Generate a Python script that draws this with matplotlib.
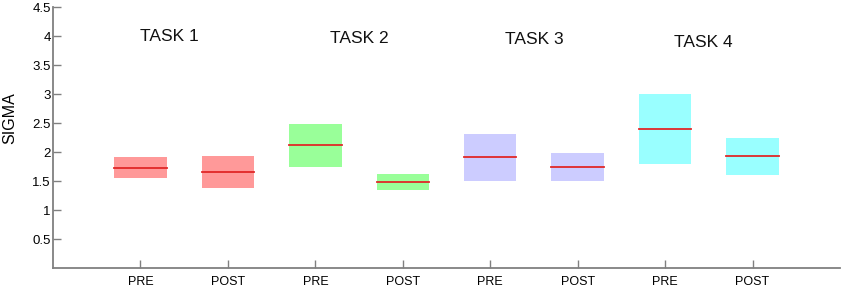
import numpy as np
import matplotlib
matplotlib.use('Agg')
import matplotlib.pyplot as plt

plt.rcParams.update({
    'font.family': ['Liberation Sans', 'DejaVu Sans'],
})

tasks = ['TASK 1', 'TASK 2', 'TASK 3', 'TASK 4']
tick_labels = ['PRE', 'POST'] * 4
q_low = [1.56, 1.38, 1.75, 1.35, 1.51, 1.51, 1.79, 1.61]
q_high = [1.91, 1.94, 2.49, 1.63, 2.31, 1.98, 3.00, 2.25]
medians = [1.73, 1.66, 2.12, 1.49, 1.92, 1.75, 2.40, 1.94]
task_colors = ['#ff9999', '#99ff99', '#ccccff', '#99ffff']

pos = np.arange(1, 9)
box_colors = [c for c in task_colors for _ in range(2)]

fig = plt.figure(figsize=(8.43, 2.89), dpi=100)
ax = fig.add_axes([0.0629, 0.0727, 0.9335, 0.902])

w = 0.6
for p, lo, hi, md, c in zip(pos, q_low, q_high, medians, box_colors):
    ax.bar(p, hi - lo, bottom=lo, width=w, color=c, edgecolor='none')
    ax.plot([p - w / 2, p + w / 2], [md, md], color='#e02828', lw=1.3)

# task titles
title_x = [1.33, 3.5, 5.5, 7.44]
title_y = [3.99, 3.96, 3.94, 3.90]
for t, x, y in zip(tasks, title_x, title_y):
    ax.text(x, y, t, ha='center', va='center', fontsize=12.5, color='#111111')

ax.set_xlim(0, 9)
ax.set_ylim(0, 4.5)
ax.set_xticks(pos)
ax.set_xticklabels(tick_labels)
ax.set_yticks(np.arange(0.5, 4.51, 0.5))
ax.set_yticklabels(['0.5', '1', '1.5', '2', '2.5', '3', '3.5', '4', '4.5'])
ax.set_ylabel('SIGMA', fontsize=11.5)
ax.yaxis.set_label_coords(-0.046, 0.575)

for s in ['top', 'right']:
    ax.spines[s].set_visible(False)
for s in ['left', 'bottom']:
    ax.spines[s].set_color('#808080')
    ax.spines[s].set_linewidth(1.3)
ax.tick_params(axis='both', direction='in', color='#808080', width=1.0, length=6)
ax.tick_params(axis='x', labelsize=9, pad=6)
ax.tick_params(axis='y', labelsize=9.5, pad=1.5)

fig.savefig('out.png', dpi=100)
